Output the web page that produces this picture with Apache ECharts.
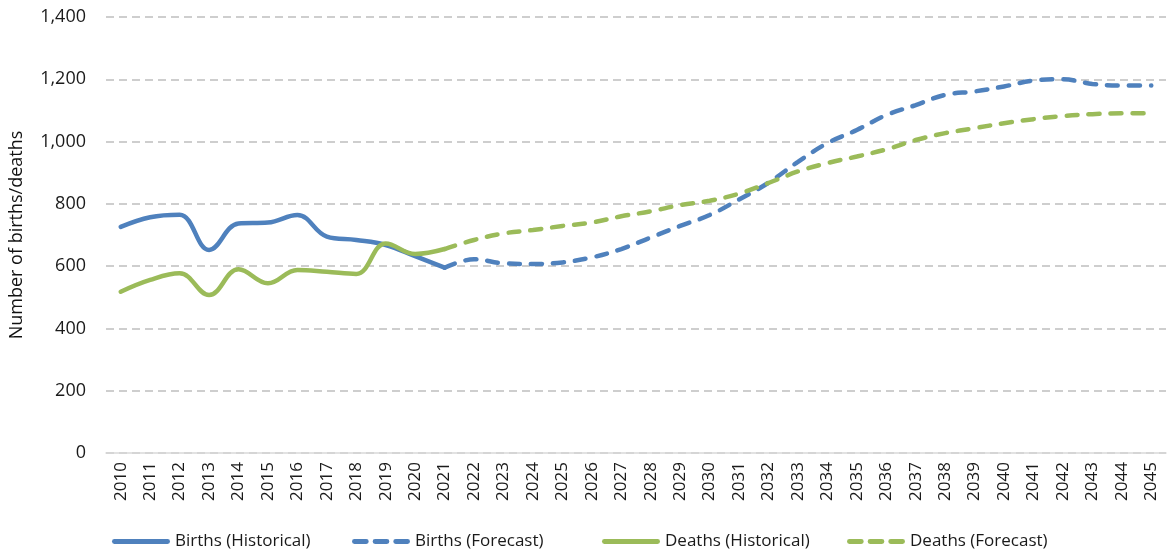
<!DOCTYPE html>
<html>
<head>
<meta charset="utf-8">
<script src="https://cdn.jsdelivr.net/npm/echarts@6/dist/echarts.min.js"></script>
<style>
html, body { margin: 0; padding: 0; background: #fff; }
#main { width: 1167px; height: 553px; }
</style>
</head>
<body>
<div id="main"></div>
<script>
var years = [];
for (var y = 2010; y <= 2045; y++) years.push(String(y));

// 2010 - 2021
var birthsHist = [726, 757, 765, 652, 737, 740, 764, 695, 684, 668, 632, 595];
var deathsHist = [518, 556, 577, 507, 590, 545, 588, 582, 575, 673, 639, 655];
// 2021 - 2045
var birthsFc = [595, 622, 609, 607, 612, 628, 655, 692, 729, 764, 814, 868, 935, 995, 1037, 1085, 1117, 1150, 1161, 1177, 1196, 1200, 1185, 1180, 1180];
var deathsFc = [655, 684, 705, 716, 729, 740, 760, 776, 796, 810, 833, 867, 904, 931, 952, 975, 1005, 1027, 1043, 1059, 1072, 1082, 1088, 1091, 1091];

var seriesNames = ['Births (Historical)', 'Births (Forecast)', 'Deaths (Historical)', 'Deaths (Forecast)'];
var yTicks = [0, 200, 400, 600, 800, 1000, 1200, 1400];

function pad(arr, before, total) {
    var out = [];
    for (var i = 0; i < before; i++) out.push(null);
    out = out.concat(arr);
    while (out.length < total) out.push(null);
    return out;
}

var blue = '#4f81bd';
var green = '#9bbb59';
var font = '"Open Sans", "Noto Sans", sans-serif';
var solidIcon = 'path://M2.5,0H57.5A2.5,2.5 0 0 1 57.5,5H2.5A2.5,2.5 0 0 1 2.5,0Z';
var dashIcon = 'path://M2.5,0H14.5A2.5,2.5 0 0 1 14.5,5H2.5A2.5,2.5 0 0 1 2.5,0Z' +
    'M23.5,0H35.5A2.5,2.5 0 0 1 35.5,5H23.5A2.5,2.5 0 0 1 23.5,0Z' +
    'M44.5,0H56.5A2.5,2.5 0 0 1 56.5,5H44.5A2.5,2.5 0 0 1 44.5,0Z';

// 图例位置
var legendLeft = [107, 347, 597, 842];
var legends = seriesNames.map(function (n, i) {
    return {
        left: legendLeft[i],
        top: 528,
        itemWidth: 58,
        itemHeight: 5,
        itemGap: 0,
        icon: i % 2 === 0 ? solidIcon : dashIcon,
        textStyle: { fontSize: 17, color: '#1a1a1a', fontFamily: font },
        data: [n]
    };
});

var myChart = echarts.init(document.getElementById('main'));
var option = {
    animation: false,
    textStyle: { fontFamily: font },
    grid: { left: 102, right: 1, top: 17, bottom: 100 },
    legend: legends,
    xAxis: {
        type: 'category',
        data: years,
        boundaryGap: true,
        axisLine: { lineStyle: { color: '#d9d9d9', width: 1.5 } },
        axisTick: { show: false },
        axisLabel: { rotate: 90, fontSize: 17, color: '#1a1a1a', margin: 9, interval: 0 }
    },
    yAxis: {
        type: 'value',
        min: 0,
        max: yTicks[yTicks.length - 1],
        interval: 200,
        name: 'Number of births/deaths',
        nameLocation: 'middle',
        nameGap: 80,
        nameTextStyle: { fontSize: 18, color: '#111' },
        axisLine: { show: false },
        axisTick: { show: false },
        axisLabel: {
            fontSize: 18, color: '#1a1a1a', margin: 20,
            formatter: function (v) { return v.toLocaleString('en-US'); }
        },
        splitLine: { lineStyle: { color: '#bfbfbf', width: 1.6, type: [8, 5] } }
    },
    series: [
        {
            name: seriesNames[0], type: 'line', smooth: 0.4, symbol: 'none',
            data: pad(birthsHist, 0, years.length),
            itemStyle: { color: blue },
            lineStyle: { color: blue, width: 4.5, cap: 'round' }
        },
        {
            name: seriesNames[1], type: 'line', smooth: 0.4, symbol: 'none',
            data: pad(birthsFc, 11, years.length),
            itemStyle: { color: blue },
            lineStyle: { color: blue, width: 4.5, type: [11, 11], cap: 'round' }
        },
        {
            name: seriesNames[2], type: 'line', smooth: 0.4, symbol: 'none',
            data: pad(deathsHist, 0, years.length),
            itemStyle: { color: green },
            lineStyle: { color: green, width: 4.5, cap: 'round' }
        },
        {
            name: seriesNames[3], type: 'line', smooth: 0.4, symbol: 'none',
            data: pad(deathsFc, 11, years.length),
            itemStyle: { color: green },
            lineStyle: { color: green, width: 4.5, type: [11, 11], cap: 'round' }
        }
    ]
};
myChart.setOption(option);
</script>
</body>
</html>
